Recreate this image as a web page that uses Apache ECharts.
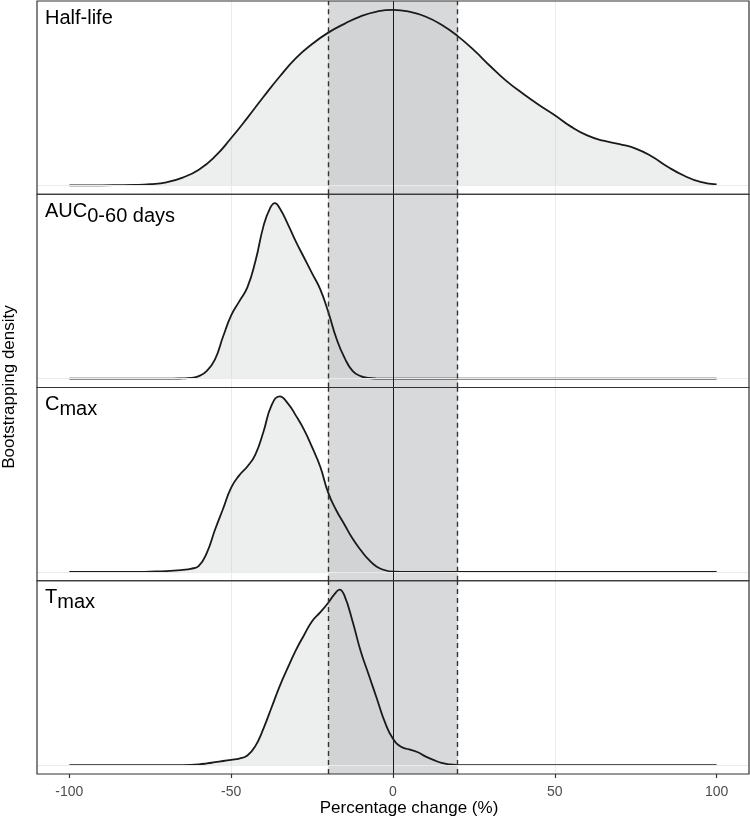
<!DOCTYPE html>
<html>
<head>
<meta charset="utf-8">
<script src="https://cdn.jsdelivr.net/npm/echarts@6/dist/echarts.min.js"></script>
<style>
  html, body { margin: 0; padding: 0; background: #fff; }
  #chart { width: 750px; height: 818px; }
</style>
</head>
<body>
<div id="chart"></div>
<script>
// percentage change (x) and relative bootstrap density (y) per panel
const halfLifeX = [-100, -90, -80, -75, -70, -65, -60, -55, -50, -45, -40, -35, -30, -25, -20, -15, -10, -5, 0, 5, 10, 15, 20, 25, 30, 35, 40, 45, 50, 55, 60, 65, 70, 75, 80, 85, 90, 95, 100];
const halfLifeY = [0, 0.001, 0.003, 0.007, 0.018, 0.045, 0.09, 0.165, 0.27, 0.385, 0.505, 0.62, 0.725, 0.805, 0.87, 0.92, 0.963, 0.99, 1.0, 0.99, 0.962, 0.915, 0.85, 0.77, 0.68, 0.595, 0.525, 0.46, 0.40, 0.335, 0.285, 0.255, 0.235, 0.21, 0.165, 0.105, 0.055, 0.02, 0.006];

const aucX = [-100, -80, -70, -65, -62.5, -60, -57.5, -55, -52.5, -50, -47.5, -45, -42.5, -40, -38, -36.5, -35, -32.5, -30, -27.5, -25, -22.5, -20, -17.5, -15, -12.5, -10, -7.5, -5, 0, 50, 100];
const aucY = [0, 0, 0, 0.002, 0.005, 0.015, 0.045, 0.11, 0.24, 0.36, 0.44, 0.52, 0.67, 0.87, 0.97, 1.0, 0.97, 0.88, 0.78, 0.69, 0.60, 0.51, 0.38, 0.23, 0.12, 0.045, 0.015, 0.004, 0.001, 0, 0, 0];

const cmaxX = [-100, -80, -75, -70, -65, -62.5, -60, -57.5, -55, -52.5, -50, -47.5, -45, -42.5, -40, -37.5, -35, -32.5, -30, -27.5, -25, -22.5, -20, -17.5, -15, -12.5, -10, -7.5, -5, -2.5, 0, 5, 100];
const cmaxY = [0, 0, 0.002, 0.005, 0.012, 0.018, 0.035, 0.11, 0.24, 0.36, 0.48, 0.55, 0.60, 0.67, 0.80, 0.95, 1.0, 0.96, 0.89, 0.81, 0.71, 0.60, 0.45, 0.35, 0.27, 0.19, 0.125, 0.07, 0.03, 0.01, 0.002, 0, 0];

const tmaxX = [-100, -70, -65, -60, -57.5, -55, -52.5, -50, -47.5, -45, -42.5, -40, -37.5, -35, -32.5, -30, -27.5, -25, -22.5, -20, -18, -16.5, -15, -12.5, -10, -7.5, -5, -2.5, 0, 2.5, 5, 7.5, 10, 12.5, 15, 17.5, 20, 25, 100];
const tmaxY = [0, 0, 0.001, 0.005, 0.01, 0.017, 0.024, 0.031, 0.038, 0.055, 0.11, 0.21, 0.33, 0.45, 0.555, 0.655, 0.74, 0.82, 0.87, 0.925, 0.975, 1.0, 0.965, 0.82, 0.65, 0.515, 0.38, 0.245, 0.15, 0.105, 0.09, 0.075, 0.05, 0.03, 0.013, 0.004, 0.001, 0, 0];

const panelNames = ['Half-life', 'AUC', 'Cmax', 'Tmax'];
const panelLabels = ['{a|Half-life}', '{a|AUC}{b|0-60 days}', '{a|C}{b|max}', '{a|T}{b|max}'];
const xTicks = [-100, -50, 0, 50, 100];
const bandEdges = [-20, 20];

const panelX = [halfLifeX, aucX, cmaxX, tmaxX];
const panelY = [halfLifeY, aucY, cmaxY, tmaxY];

// layout
const left = 37, plotW = 712, top0 = 1, panelH = 193.25;
const xMin = -110, xMax = 110;
const tickLeft = left + plotW * (xTicks[0] - xMin) / (xMax - xMin);
const tickW = plotW * (xTicks[4] - xTicks[0]) / (xMax - xMin);
const font = '"Liberation Sans", Arial, Helvetica, sans-serif';

const grid = [], xAxis = [], yAxis = [], series = [], graphic = [];

panelNames.forEach((name, i) => {
  const top = top0 + i * panelH;
  grid.push({ left: left, width: plotW, top: top, height: panelH, show: true,
    borderColor: '#333', borderWidth: 1.2, backgroundColor: 'transparent', z: 10 });
  xAxis.push({ type: 'value', gridIndex: i, min: xMin, max: xMax, show: false });
  yAxis.push({ type: 'value', gridIndex: i, min: -0.05, max: 1.05, show: false });

  // shaded +/-20% band and the y = 0 grid line
  series.push({
    type: 'line', xAxisIndex: i, yAxisIndex: i, data: [], z: 1, silent: true,
    markArea: { silent: true, itemStyle: { color: '#d8d9db' },
      data: [[{ xAxis: bandEdges[0] }, { xAxis: bandEdges[1] }]] },
    markLine: { silent: true, symbol: 'none', label: { show: false }, animation: false,
      lineStyle: { color: '#ebebeb', width: 1, type: 'solid' },
      data: [{ yAxis: 0 }] }
  });

  // density curve
  series.push({
    name: name, type: 'line', xAxisIndex: i, yAxisIndex: i, z: 2,
    data: panelX[i].map((x, k) => [x, panelY[i][k]]),
    smooth: 0.5, showSymbol: false, silent: true,
    lineStyle: { color: '#1a1a1a', width: 1.8 },
    areaStyle: { color: 'rgba(194,196,196,0.41)', origin: 0 }
  });

  // reference lines
  series.push({
    type: 'line', xAxisIndex: i, yAxisIndex: i, data: [], z: 3, silent: true,
    markLine: { silent: true, symbol: 'none', label: { show: false }, animation: false,
      data: [
        { xAxis: bandEdges[0], lineStyle: { color: '#333', width: 1.4, type: [5, 4] } },
        { xAxis: bandEdges[1], lineStyle: { color: '#333', width: 1.4, type: [5, 4] } },
        { xAxis: 0, lineStyle: { color: '#1a1a1a', width: 1, type: 'solid' } }
      ] }
  });

  graphic.push({
    type: 'text', left: 45, top: top + 7, z: 20,
    style: {
      text: panelLabels[i],
      rich: {
        a: { fontSize: 20, fontFamily: font, fill: '#000', lineHeight: 22, verticalAlign: 'top' },
        b: { fontSize: 20, fontFamily: font, fill: '#000', lineHeight: 22, verticalAlign: 'top', padding: [5, 0, 0, 0] }
      }
    }
  });
});

// shared x scale: grid lines through all panels, ticks and labels at the bottom
grid.push({ left: tickLeft, width: tickW, top: top0, height: panelH * 4, show: false });
xAxis.push({
  type: 'value', gridIndex: 4, min: xTicks[0], max: xTicks[4], interval: 50,
  axisLine: { show: false },
  axisTick: { show: true, length: 4, lineStyle: { color: '#333', width: 1.2 } },
  axisLabel: { color: '#4d4d4d', fontSize: 14, fontFamily: font, margin: 11 },
  splitLine: { show: true, showMinLine: false, showMaxLine: false, lineStyle: { color: '#ebebeb', width: 1 } }
});
yAxis.push({ type: 'value', gridIndex: 4, min: 0, max: 1, show: false });

graphic.push({
  type: 'text', x: 409, y: 808, z: 20,
  style: { text: 'Percentage change (%)', fontSize: 17, fontFamily: font, fill: '#000',
    textAlign: 'center', textVerticalAlign: 'middle' }
});
graphic.push({
  type: 'text', x: 9, y: 387, rotation: Math.PI / 2, z: 20,
  style: { text: 'Bootstrapping density', fontSize: 17, fontFamily: font, fill: '#000',
    textAlign: 'center', textVerticalAlign: 'middle' }
});

const chart = echarts.init(document.getElementById('chart'), null, { renderer: 'canvas' });
chart.setOption({
  animation: false,
  backgroundColor: '#fff',
  grid: grid,
  xAxis: xAxis,
  yAxis: yAxis,
  series: series,
  graphic: graphic
});
</script>
</body>
</html>
